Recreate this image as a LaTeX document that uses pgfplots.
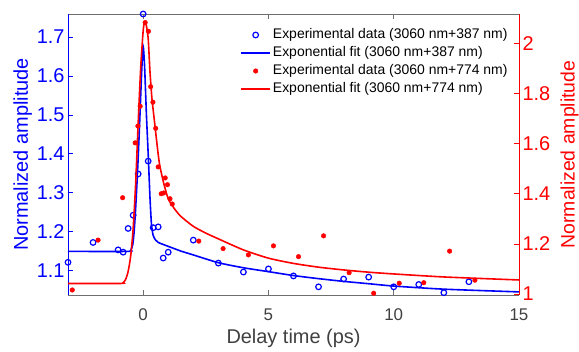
\documentclass[border=0pt]{standalone}
\usepackage{pgfplots}
\pgfplotsset{compat=1.18}
\usepackage{pgfplotstable}
\usepackage{fontspec}
\setmainfont{Liberation Sans}
\definecolor{axgray}{RGB}{110,110,110}
\definecolor{tickgray}{RGB}{64,64,64}

\pgfplotstableread{
x y
-3.0 1.121
-2.0 1.172
-1.0 1.153
-0.8 1.147
-0.6 1.208
-0.4 1.242
-0.2 1.348
0.0 1.759
0.2 1.381
0.4 1.210
0.6 1.212
0.8 1.132
1.0 1.147
2.0 1.178
3.0 1.119
4.0 1.096
5.0 1.104
6.0 1.086
7.0 1.058
8.0 1.078
9.0 1.083
10.0 1.058
11.0 1.064
12.0 1.043
13.0 1.071
}\blueexp

\pgfplotstableread{
x y
-3.0 1.149
-0.6 1.149
-0.5 1.152
-0.42 1.165
-0.36 1.20
-0.3 1.26
-0.22 1.36
-0.14 1.48
-0.06 1.61
0.0 1.676
0.06 1.62
0.13 1.50
0.2 1.40
0.27 1.29
0.33 1.22
0.4 1.19
0.5 1.178
0.6 1.172
1.0 1.162
1.5 1.150
2.0 1.140
3.0 1.120
4.0 1.107
5.0 1.097
6.0 1.087
7.0 1.079
8.0 1.072
9.0 1.066
10.0 1.060
12.0 1.052
15.0 1.045
}\bluefit

\pgfplotstableread{
x y
-2.83 1.016
-1.80 1.215
-0.82 1.384
-0.32 1.603
-0.21 1.670
-0.12 1.749
0.08 2.083
0.21 2.048
0.30 1.827
0.39 1.765
0.50 1.661
0.60 1.507
0.72 1.400
0.82 1.403
0.88 1.463
0.97 1.436
1.07 1.380
1.16 1.359
2.22 1.211
3.19 1.181
4.20 1.156
5.20 1.192
6.20 1.149
7.20 1.232
8.22 1.085
9.20 1.003
10.22 1.043
11.20 1.045
12.23 1.171
13.24 1.055
}\redexp

\pgfplotstableread{
x y
-3.0 1.042
-0.9 1.042
-0.8 1.045
-0.7 1.058
-0.6 1.09
-0.5 1.15
-0.4 1.26
-0.3 1.44
-0.2 1.68
-0.1 1.90
0.0 2.05
0.06 2.085
0.12 2.075
0.2 2.02
0.27 1.89
0.35 1.78
0.45 1.69
0.55 1.60
0.65 1.52
0.8 1.45
1.0 1.38
1.25 1.34
1.5 1.31
2.0 1.27
2.5 1.243
3.0 1.220
4.0 1.176
5.0 1.143
6.0 1.122
7.0 1.107
8.0 1.096
9.0 1.087
10.0 1.080
12.0 1.068
15.0 1.056
}\redfit

\begin{document}
\begin{tikzpicture}
\path[use as bounding box] (-68bp,-57bp) rectangle (511bp,295bp);
\begin{axis}[
  scale only axis, width=451bp, height=281bp,
  xmin=-3, xmax=15, ymin=1.037, ymax=1.759,
  axis y line*=left,
  clip=false,
  tick align=inside,
  major tick length=5bp,
  xtick={0,5,10,15},
  ytick={1.1,1.2,1.3,1.4,1.5,1.6,1.7},
  x axis line style={axgray, line width=0.6bp},
  y axis line style={blue, line width=0.6bp},
  x tick style={axgray, line width=0.6bp},
  y tick style={blue, line width=0.6bp},
  /pgf/number format/assume math mode=true,
  xticklabel style={text=tickgray, font=\fontsize{17}{20}\selectfont, yshift=-10bp},
  yticklabel style={text=blue, font=\fontsize{20}{24}\selectfont, /pgf/number format/fixed, /pgf/number format/precision=1},
  xlabel={Delay time (ps)},
  xlabel style={at={(axis description cs:0.5,-0.174)}, anchor=base, text=tickgray, font=\fontsize{20}{24}\selectfont},
  ylabel={Normalized amplitude},
  ylabel style={at={(axis description cs:-0.0887,0.5)}, anchor=base, text=blue, font=\fontsize{20}{24}\selectfont},
]
\addplot[blue, line width=1.6bp, smooth, tension=0.4] table {\bluefit};
\addplot[blue, only marks, mark=o, mark size=2.8bp, line width=1.2bp] table {\blueexp};
\end{axis}
\begin{axis}[
  scale only axis, width=451bp, height=281bp,
  xmin=-3, xmax=15, ymin=0.996, ymax=2.117,
  axis y line*=right, axis x line=none,
  clip=false,
  tick align=inside,
  major tick length=5bp,
  ytick={1,1.2,1.4,1.6,1.8,2},
  y axis line style={red, line width=0.6bp},
  y tick style={red, line width=0.6bp},
  /pgf/number format/assume math mode=true,
  yticklabel style={text=red, font=\fontsize{20}{24}\selectfont, /pgf/number format/fixed, /pgf/number format/precision=1},
  ylabel={Normalized amplitude},
  ylabel style={at={(axis description cs:1.1231,0.5)}, anchor=base, text=red, font=\fontsize{19.5}{24}\selectfont},
  legend style={at={(axis description cs:1,1)}, anchor=north east, xshift=-11.3bp, yshift=-13.8bp,
    draw=none, fill=none, inner sep=0pt, row sep=4bp, column sep=2bp,
    font=\fontsize{14}{16}\selectfont, text=black,
    nodes={inner sep=0pt, text height=11bp, text depth=3bp}},
  legend cell align=left,
  legend image code/.code={\draw[mark repeat=2,mark phase=2,#1] plot coordinates {(0bp,0bp) (14.5bp,0bp) (29bp,0bp)};},
]
\addlegendimage{blue, only marks, mark=o, mark size=2.8bp, line width=1.2bp}
\addlegendentry{Experimental data (3060 nm+387 nm)}
\addlegendimage{blue, line width=1.6bp}
\addlegendentry{Exponential fit (3060 nm+387 nm)}
\addplot[red, only marks, mark=*, mark size=2.3bp] table {\redexp};
\addlegendentry{Experimental data (3060 nm+774 nm)}
\addplot[red, line width=1.6bp, smooth, tension=0.4] table {\redfit};
\addlegendentry{Exponential fit (3060 nm+774 nm)}
\end{axis}
\end{tikzpicture}
\end{document}
